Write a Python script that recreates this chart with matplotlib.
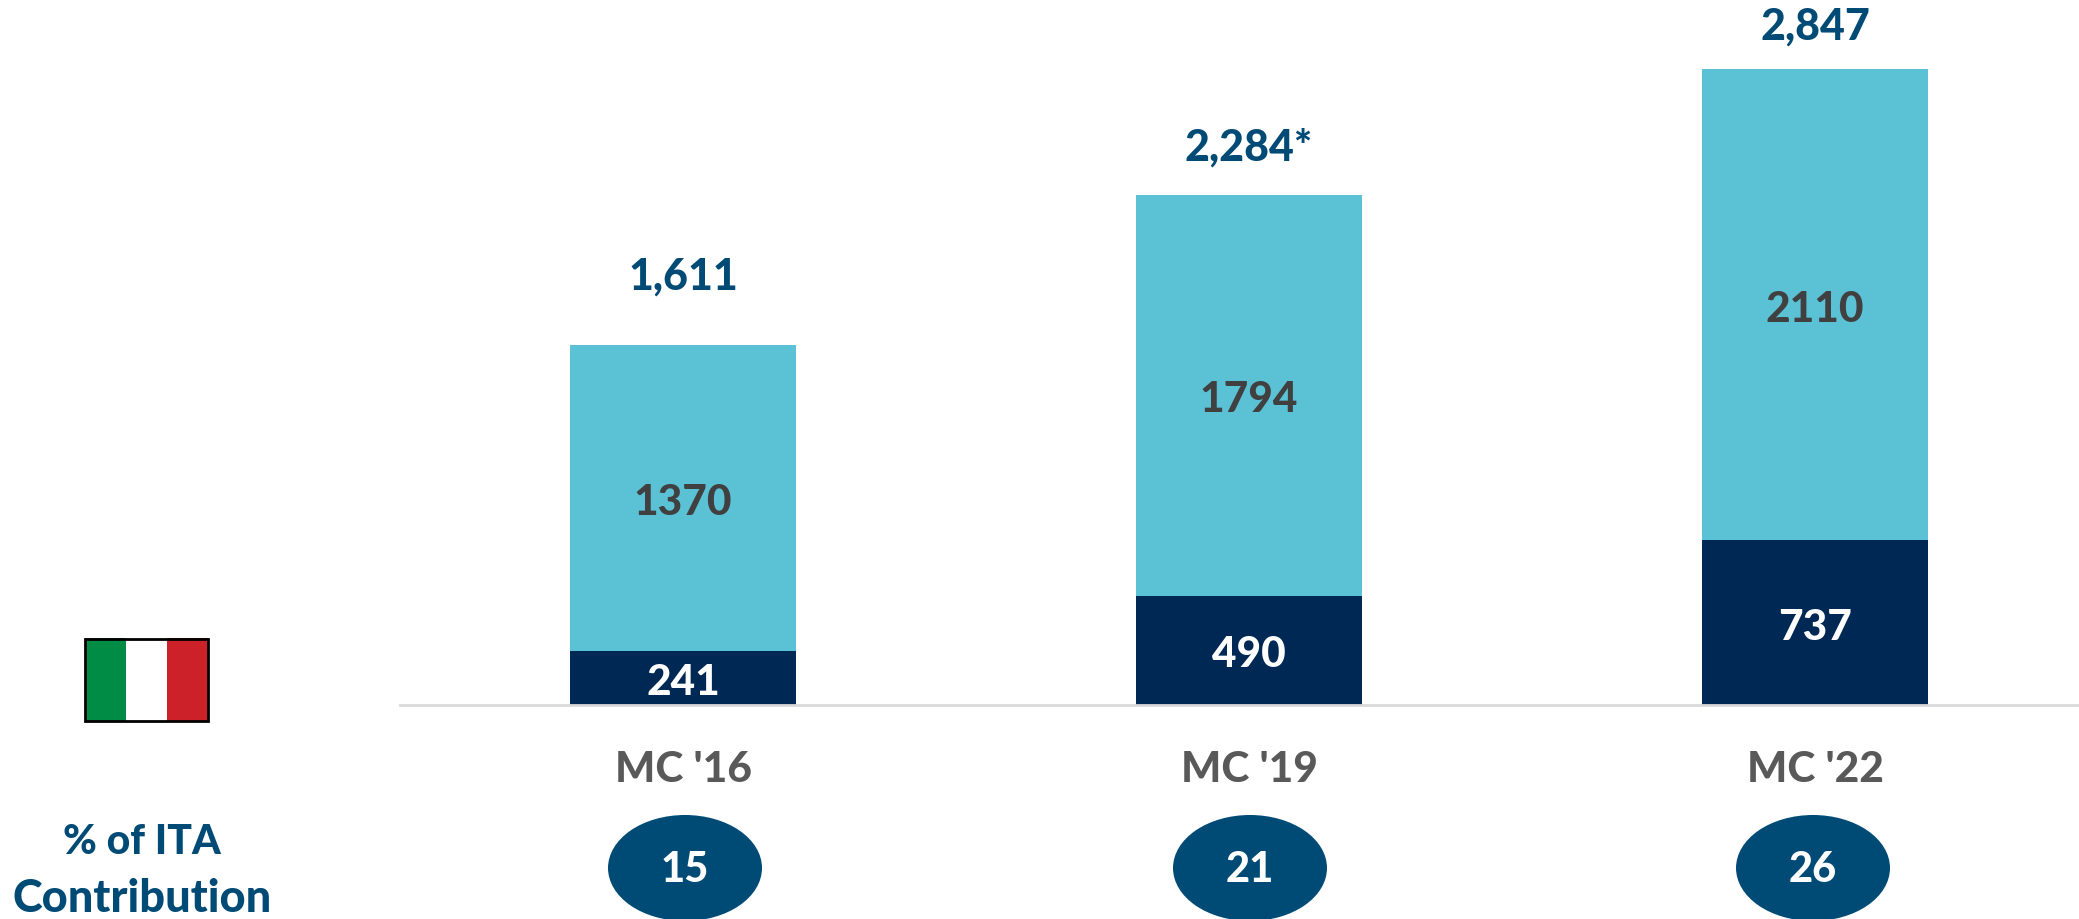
#!/usr/bin/env python
import matplotlib as mpl

mpl.use("Agg")
import matplotlib.pyplot as plt
from matplotlib.patches import Ellipse, Rectangle

plt.rcParams["font.family"] = ["Lato", "DejaVu Sans"]

categories = ["MC '16", "MC '19", "MC '22"]
ita_values = [241, 490, 737]
other_values = [1370, 1794, 2110]
total_labels = ["1,611", "2,284*", "2,847"]
pct_contribution = [15, 21, 26]

W, H = 2079, 919
BLUE = "#004A76"
WEIGHT = 900

fig = plt.figure(figsize=(W / 100, H / 100), dpi=100)

# bars axes: runs from the baseline up to the top edge of the figure
ax = fig.add_axes([400 / W, (H - 705) / H, (W - 400) / W, 705 / H])
x = list(range(len(categories)))
ax.bar(x, ita_values, width=0.4, color="#002855")
ax.bar(x, other_values, width=0.4, bottom=ita_values, color="#5BC2D6")
ax.set_xlim(-0.5, 2.466)
ax.set_ylim(0, 3155)
ax.set_yticks([])
ax.set_xticks(x)
ax.set_xticklabels(categories, fontsize=30.5, fontweight=WEIGHT, color="#595959")
ax.tick_params(axis="x", length=0, pad=33)
for side in ["top", "right", "left"]:
    ax.spines[side].set_visible(False)
ax.spines["bottom"].set_color("#D9D9D9")
ax.spines["bottom"].set_linewidth(2)

# the totals do not sit at a constant distance above the bars
total_offsets = [48, 27, 22]
label_shift = -5  # pixels, value labels sit a little under the segment centre

for i in x:
    ax.annotate(str(ita_values[i]), (i, ita_values[i] / 2), xytext=(0, label_shift),
                textcoords="offset pixels", ha="center", va="center",
                fontsize=30.5, fontweight=WEIGHT, color="white")
    ax.annotate(str(other_values[i]), (i, ita_values[i] + other_values[i] / 2), xytext=(0, label_shift),
                textcoords="offset pixels", ha="center", va="center",
                fontsize=30.5, fontweight=WEIGHT, color="#404040")
    ax.annotate(total_labels[i], (i, ita_values[i] + other_values[i]), xytext=(0, total_offsets[i]),
                textcoords="offset pixels", ha="center", va="bottom",
                fontsize=31, fontweight=WEIGHT, color=BLUE, annotation_clip=False)

# overlay in pixel coordinates for the flag, the ovals and the side label
ov = fig.add_axes([0, 0, 1, 1])
ov.set_xlim(0, W)
ov.set_ylim(H, 0)
ov.axis("off")
ov.patch.set_alpha(0)

for left, col in zip([85, 126, 167], ["#008C45", "white", "#CD212A"]):
    ov.add_patch(Rectangle((left, 638), 41, 84, facecolor=col, edgecolor="none"))
ov.add_patch(Rectangle((85, 639), 123, 82, facecolor="none", edgecolor="black", linewidth=2))

for cx, val in zip([685, 1250, 1813], pct_contribution):
    ov.add_patch(Ellipse((cx, 868), 154, 106, facecolor=BLUE, edgecolor="none"))
    ov.text(cx, 870, str(val), ha="center", va="center", fontsize=30,
            fontweight=WEIGHT, color="white")

ov.text(142, 842, "% of ITA", ha="center", va="center", fontsize=29.5, fontweight=WEIGHT, color=BLUE)
ov.text(142, 899, "Contribution", ha="center", va="center", fontsize=32.5, fontweight=WEIGHT, color=BLUE)

fig.savefig("out.png", dpi=100)
